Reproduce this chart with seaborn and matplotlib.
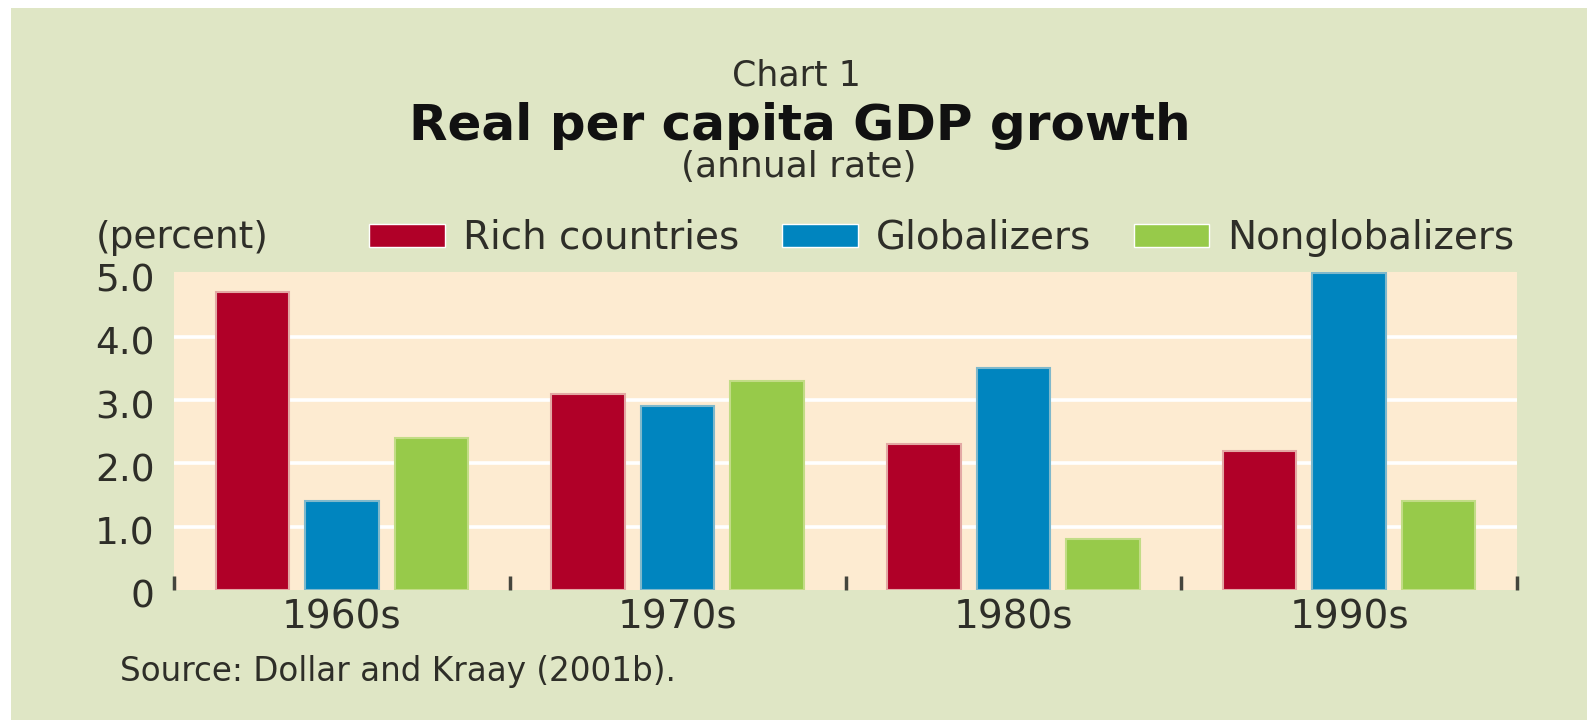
import matplotlib
matplotlib.use("Agg")
import matplotlib.pyplot as plt
import matplotlib.patches as mpatches
from matplotlib.transforms import ScaledTranslation
import seaborn as sns
import pandas as pd

# ---- data ----
decades = ["1960s", "1970s", "1980s", "1990s"]
series = ["Rich countries", "Globalizers", "Nonglobalizers"]
rich = [4.7, 3.1, 2.3, 2.2]
globalizers = [1.4, 2.9, 3.5, 5.0]
nonglobalizers = [2.4, 3.3, 0.8, 1.4]
yticks = [0, 1, 2, 3, 4, 5]
ytick_labels = ["0", "1.0", "2.0", "3.0", "4.0", "5.0"]
grid_levels = [1, 2, 3, 4]

colors = ["#b00028", "#0085bf", "#97ca4a"]
edge_colors = ["#e3a8a4", "#7fb8cb", "#c2dc86"]
BG = "#dfe6c5"
PLOT_BG = "#fdebd1"
TXT = "#2e2e28"

df = pd.DataFrame({
    "decade": decades * 3,
    "series": [series[0]] * 4 + [series[1]] * 4 + [series[2]] * 4,
    "value": rich + globalizers + nonglobalizers,
})

sns.set_theme(style="white")
plt.rcParams["font.family"] = ["DejaVu Sans"]

fig = plt.figure(figsize=(15.87, 7.2), dpi=100)
fig.patch.set_facecolor("white")
fig.patches.append(mpatches.Rectangle((11 / 1587, -0.01), 1.01 - 11 / 1587, 1.01 - 8 / 720,
                                      transform=fig.transFigure, facecolor=BG,
                                      edgecolor="none", zorder=-10))

ax = fig.add_axes([174 / 1587, 1 - 590 / 720, (1517 - 174) / 1587, (590 - 271.5) / 720])
ax.set_facecolor(PLOT_BG)

sns.barplot(data=df, x="decade", y="value", hue="series", order=decades,
            hue_order=series, palette=colors, width=0.8, gap=0.18,
            saturation=1, ax=ax, legend=True, zorder=3)

for cont, ec in zip(ax.containers, edge_colors):
    for p in cont:
        p.set_edgecolor(ec)
        p.set_linewidth(1.5)

ax.set_ylim(0, 5.03)
ax.set_xlim(-0.5, 3.5)
ax.set_yticks(yticks)
ax.set_yticklabels(ytick_labels)
ax.set_xlabel("")
ax.set_ylabel("")
for s in ax.spines.values():
    s.set_visible(False)

ax.grid(False)
for lvl in grid_levels:
    ax.axhline(lvl, color="white", linewidth=2.6, zorder=1)

ax.tick_params(axis="y", length=0, pad=14, labelsize=27, labelcolor=TXT)
ax.tick_params(axis="x", which="major", length=0, pad=6, labelsize=28, labelcolor=TXT)
ax.set_xticks([-0.5, 0.5, 1.5, 2.5, 3.5], minor=True)
ax.tick_params(axis="x", which="minor", bottom=True, direction="in", length=10, width=2.5,
               color="#45453d")
for lab in ax.get_yticklabels():
    lab.set_transform(lab.get_transform() + ScaledTranslation(0, -4 / 100, fig.dpi_scale_trans))

handles, labels = ax.get_legend_handles_labels()
ax.legend(handles, labels, ncol=3, frameon=False, loc="center left",
          bbox_to_anchor=(369 / 1587, 1 - 238 / 720), bbox_transform=fig.transFigure,
          fontsize=28, labelcolor=TXT, handlelength=1.95, handleheight=0.52,
          handletextpad=0.46, columnspacing=1.1, borderaxespad=0, borderpad=0)

fig.text(0.502, 1 - 76 / 720, "Chart 1", ha="center", va="center", fontsize=25, color=TXT)
fig.text(0.504, 1 - 126 / 720, "Real per capita GDP growth", ha="center", va="center",
         fontsize=36, fontweight="bold", color="#111111")
fig.text(0.503, 1 - 167 / 720, "(annual rate)", ha="center", va="center", fontsize=26, color=TXT)
fig.text(96 / 1587, 1 - 238 / 720, "(percent)", ha="left", va="center", fontsize=27, color=TXT)
fig.text(120 / 1587, 1 - 672 / 720, "Source: Dollar and Kraay (2001b).", ha="left",
         va="center", fontsize=23.5, color=TXT)

fig.savefig("out.png", dpi=100, facecolor=fig.get_facecolor())
